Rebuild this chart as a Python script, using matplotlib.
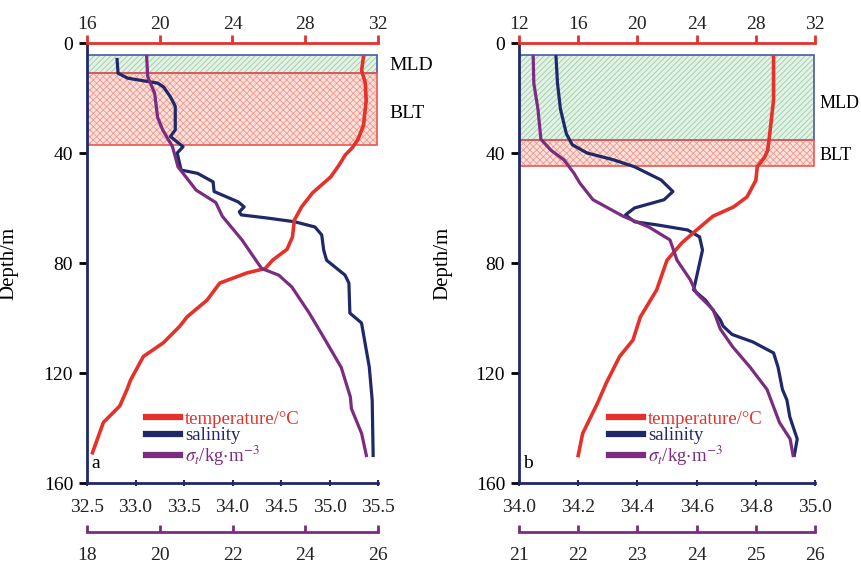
import matplotlib
matplotlib.use("Agg")
import matplotlib.pyplot as plt
from matplotlib.patches import Rectangle
from matplotlib.lines import Line2D

plt.rcParams['font.family'] = ['Liberation Serif', 'DejaVu Serif']
plt.rcParams['mathtext.fontset'] = 'stix'
plt.rcParams['hatch.linewidth'] = 0.6

RED = '#e4322b'
NAVY = '#1f2868'
PURPLE = '#7b2c80'

# ---- panel a ----
depth_a_T = [5, 10, 14.5, 21, 30, 35, 38, 40.7, 44, 48.7, 54.5, 59.6, 64.4, 70.5, 75, 79, 82,
             83.6, 87.3, 93.5, 99.6, 103, 109, 114, 122.5, 126, 132, 138, 149]
temp_a = [31.2, 31.1, 31.3, 31.35, 31.2, 30.9, 30.6, 30.2, 29.9, 29.4, 28.4, 27.8, 27.4, 27.3, 27.0,
          26.2, 25.8, 24.8, 23.3, 22.6, 21.5, 21.1, 20.2, 19.1, 18.4, 18.2, 17.8, 16.9, 16.3]

depth_a_S = [6, 11, 12.8, 14.6, 16, 19.6, 23, 31.6, 34, 37.7, 40, 46.2, 47.4, 50.5, 54, 57.8, 59.6,
             61.4, 62.5, 63.7, 65, 66.9, 69.8, 75.3, 79, 84.4, 87.3, 98.2, 101.8, 117.8, 129.8, 150]
sal_a = [32.81, 32.82, 32.92, 33.23, 33.29, 33.36, 33.41, 33.41, 33.36, 33.49, 33.43, 33.47, 33.64,
         33.80, 33.81, 34.06, 34.12, 34.07, 34.09, 34.37, 34.64, 34.85, 34.92, 34.94, 34.97, 35.16,
         35.20, 35.21, 35.33, 35.41, 35.44, 35.45]

depth_a_sig = [5, 12.3, 18.3, 27, 31.6, 37.7, 42.5, 45, 53.5, 58, 63, 71.6, 82, 84.4, 88.7, 98,
               108, 118, 128.7, 133, 142, 150]
sig_a = [19.64, 19.67, 19.86, 19.94, 20.08, 20.35, 20.45, 20.5, 21.0, 21.54, 21.72, 22.26, 22.8,
         23.27, 23.63, 24.1, 24.55, 24.99, 25.24, 25.27, 25.55, 25.68]

# ---- panel b ----
depth_b_T = [5, 20.7, 35, 39, 41.5, 45, 50, 56, 59.6, 63, 68, 72.7, 79, 89.8, 99.6, 108, 114,
             123.6, 131, 142, 150]
temp_b = [29.2, 29.2, 28.9, 28.8, 28.6, 28.1, 28.0, 27.4, 26.5, 25.1, 24.0, 23.0, 22.0, 21.3,
          20.2, 19.7, 18.8, 17.9, 17.3, 16.3, 16.0]

depth_b_S = [5, 14.6, 24, 33, 37, 40, 42.5, 45, 49.8, 54, 57, 60, 62.5, 65, 66.2, 68, 70.5, 75.3,
             85, 89.8, 93.5, 100.7, 103, 106, 108.7, 112.7, 117.8, 126, 129.8, 136, 144, 150]
sal_b = [34.125, 34.13, 34.14, 34.16, 34.18, 34.23, 34.32, 34.39, 34.48, 34.52, 34.49, 34.39, 34.36,
         34.39, 34.47, 34.57, 34.61, 34.62, 34.60, 34.59, 34.63, 34.68, 34.69, 34.72, 34.79, 34.86,
         34.875, 34.89, 34.905, 34.915, 34.94, 34.93]

depth_b_sig = [5, 14.6, 24, 35, 39, 42.5, 47.4, 51, 57, 63, 67, 71.6, 79, 86, 91, 97, 104, 110.5,
               117.8, 126, 138, 144, 150]
sig_b = [21.24, 21.25, 21.32, 21.37, 21.54, 21.76, 21.93, 22.03, 22.25, 22.76, 23.2, 23.55, 23.67,
         23.89, 24.0, 24.28, 24.4, 24.61, 24.9, 25.19, 25.4, 25.58, 25.63]

depth_ticks = [0, 40, 80, 120, 160]
temp_ticks_a = [16, 20, 24, 28, 32]
sal_ticks_a = [32.5, 33.0, 33.5, 34.0, 34.5, 35.0, 35.5]
sig_ticks_a = [18, 20, 22, 24, 26]
temp_ticks_b = [12, 16, 20, 24, 28, 32]
sal_ticks_b = [34.0, 34.2, 34.4, 34.6, 34.8, 35.0]
sig_ticks_b = [21, 22, 23, 24, 25, 26]

mld_a, blt_a = (4.3, 10.9), (10.9, 37.0)
mld_b, blt_b = (4.4, 35.3), (35.3, 44.7)

W, H = 862, 565
fig = plt.figure(figsize=(W / 100, H / 100), dpi=100)

FS = 14


def panel(x0, x1, dT, T, dS, S, dG, G, tT, tS, tG, mld, blt, letter, ylab_x, leg_x, lab_x, mld_y, blt_y,
          lab_fs=FS):
    rect = [x0 / W, 1 - 483 / H, (x1 - x0) / W, 440 / H]
    ax = fig.add_axes(rect)
    ax.set_ylim(160, 0)
    ax.set_xlim(tS[0], tS[-1])
    ax.set_yticks(depth_ticks)
    ax.set_xticks(tS)
    ax.set_xticklabels(['%.1f' % v for v in tS])
    for s in ['top', 'right']:
        ax.spines[s].set_visible(False)
    for s in ['left', 'bottom']:
        ax.spines[s].set_color(NAVY)
        ax.spines[s].set_linewidth(2)
    ax.tick_params(axis='y', colors='black', labelsize=FS, length=6, width=2, pad=4)
    ax.tick_params(axis='x', colors=NAVY, labelcolor='#222222', labelsize=FS, length=5, width=1.5,
                   direction='inout', pad=9)
    ax.set_ylabel('Depth/m', fontsize=FS + 1)
    ax.yaxis.set_label_coords((ylab_x - x0) / (x1 - x0), 0.5)

    tr = ax.get_yaxis_transform()
    ax.add_patch(Rectangle((0, mld[0]), 0.997, mld[1] - mld[0], transform=tr, facecolor='#e2f2e4',
                           edgecolor='#9ccca8', hatch='//////', lw=0, zorder=0))
    ax.add_patch(Rectangle((0, mld[0]), 0.997, mld[1] - mld[0], transform=tr, fill=False,
                           edgecolor='#4a58a8', lw=1.2, zorder=0.5))
    ax.add_patch(Rectangle((0, blt[0]), 0.997, blt[1] - blt[0], transform=tr, facecolor='#fbe2dc',
                           edgecolor='#f0968c', hatch='xxxxx', lw=0, zorder=0))
    ax.add_patch(Rectangle((0, blt[0]), 0.997, blt[1] - blt[0], transform=tr, fill=False,
                           edgecolor='#e85a50', lw=1.2, zorder=0.5))
    ax.text(lab_x / W, 1 - mld_y / H, 'MLD', transform=fig.transFigure, fontsize=lab_fs, va='center')
    ax.text(lab_x / W, 1 - blt_y / H, 'BLT', transform=fig.transFigure, fontsize=lab_fs, va='center')

    ax.plot(S, dS, color=NAVY, lw=2.3, zorder=3)
    ax.text(0.015, 0.045, letter, transform=ax.transAxes, fontsize=FS, va='center')

    axT = ax.twiny()
    axT.set_xlim(tT[0], tT[-1])
    axT.set_xticks(tT)
    for s in ['bottom', 'left', 'right']:
        axT.spines[s].set_visible(False)
    axT.spines['top'].set_color(RED)
    axT.spines['top'].set_linewidth(2)
    axT.tick_params(axis='x', colors=RED, labelcolor='#222222', labelsize=FS, length=6, width=2, pad=1.5)
    axT.plot(T, dT, color=RED, lw=2.6, zorder=3)

    axG = ax.twiny()
    axG.set_xlim(tG[0], tG[-1])
    axG.set_xticks(tG)
    axG.xaxis.set_ticks_position('bottom')
    axG.xaxis.set_label_position('bottom')
    axG.spines['bottom'].set_position(('outward', 35))
    for s in ['top', 'left', 'right']:
        axG.spines[s].set_visible(False)
    axG.spines['bottom'].set_color(PURPLE)
    axG.spines['bottom'].set_linewidth(2)
    axG.tick_params(axis='x', colors=PURPLE, labelcolor='#222222', labelsize=FS, length=5, width=2,
                    direction='in', pad=11)
    axG.plot(G, dG, color=PURPLE, lw=2.3, zorder=3)

    handles = [Line2D([], [], color=RED, lw=4.5), Line2D([], [], color=NAVY, lw=4.5),
               Line2D([], [], color=PURPLE, lw=4.5)]
    labels = ['temperature/°C', 'salinity', r'$\sigma_t$/kg$\cdot$m$^{-3}$']
    axG.legend(handles, labels, loc='lower left',
               bbox_to_anchor=((leg_x - x0) / (x1 - x0), 0.035), frameon=False, fontsize=13.5,
               handlelength=1.8, handletextpad=0.3, labelspacing=-0.05, borderpad=0, borderaxespad=0,
               labelcolor=[RED, NAVY, PURPLE])


panel(87, 378, depth_a_T, temp_a, depth_a_S, sal_a, depth_a_sig, sig_a,
      temp_ticks_a, sal_ticks_a, sig_ticks_a, mld_a, blt_a, 'a', 18, 146, 389, 65, 113)
panel(519, 815, depth_b_T, temp_b, depth_b_S, sal_b, depth_b_sig, sig_b,
      temp_ticks_b, sal_ticks_b, sig_ticks_b, mld_b, blt_b, 'b', 452, 609, 820, 104, 155, lab_fs=13)

fig.savefig('out.png', dpi=100)
